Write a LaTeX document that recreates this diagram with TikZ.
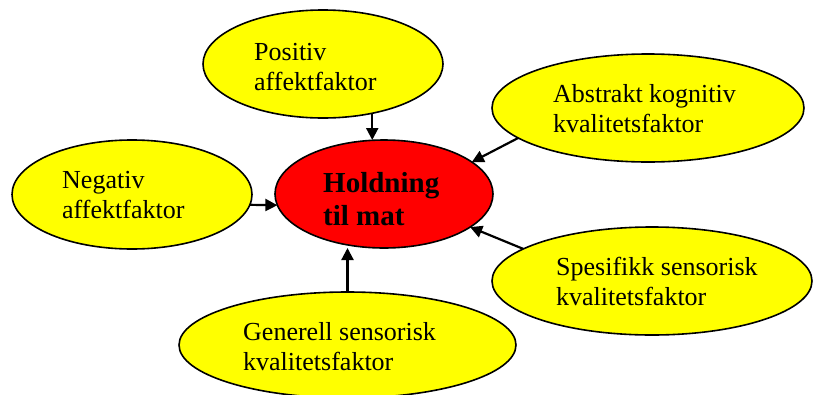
\documentclass[tikz,border=0pt]{standalone}
\usepackage{fontspec}
\setmainfont{Liberation Serif}
\usetikzlibrary{shapes.geometric,arrows.meta}
\definecolor{ovalyellow}{RGB}{255,255,0}
\definecolor{ovalred}{RGB}{255,0,0}
\begin{document}
\begin{tikzpicture}[x=1pt,y=-1pt,
  oval/.style={ellipse,draw=black,line width=1.6pt,fill=ovalyellow,inner sep=0pt,outer sep=0pt},
  lbl/.style={anchor=base west,align=left,inner sep=0pt,font=\fontsize{26}{30}\selectfont},
  conn/.style={line width=2.2pt,-{Triangle[length=12pt,width=12pt]}}]
\useasboundingbox (0,0) rectangle (817,394);
\clip (0,0) rectangle (817,394);
% ellipses
\node[oval,fill=ovalred,minimum width=218pt,minimum height=108pt] (hold) at (384,194) {};
\node[oval,minimum width=240pt,minimum height=108pt] (pos) at (323,64) {};
\node[oval,minimum width=312pt,minimum height=108pt] (abs) at (648,108) {};
\node[oval,minimum width=240pt,minimum height=109pt] (neg) at (132,194.5) {};
\node[oval,minimum width=337pt,minimum height=106pt] (gen) at (347.5,345) {};
\node[oval,minimum width=320pt,minimum height=108pt] (spe) at (652,281) {};
% texts (anchored at the baseline of the last line)
\node[lbl,font=\bfseries\fontsize{29}{33}\selectfont] (tHold) at (323,225) {Holdning\\til mat};
\node[lbl] (tPos) at (254,90) {Positiv\\affektfaktor};
\node[lbl] (tAbs) at (553,132) {Abstrakt kognitiv\\kvalitetsfaktor};
\node[lbl] (tNeg) at (62,218) {Negativ\\affektfaktor};
\node[lbl] (tGen) at (243,370) {Generell sensorisk\\kvalitetsfaktor};
\node[lbl] (tSpe) at (556,305) {Spesifikk sensorisk\\kvalitetsfaktor};
% connectors
\draw[conn] (pos.-45) -- (pos.-45 |- hold.north);
\draw[conn] (abs.193.7) -- (hold.20);
\draw[conn] (spe.166.7) -- (hold.-21);
\draw[conn] (neg.-5.5) -- (hold.186);
\draw[conn] (gen.north) -- (gen.north |- hold.south);
\end{tikzpicture}
\end{document}
